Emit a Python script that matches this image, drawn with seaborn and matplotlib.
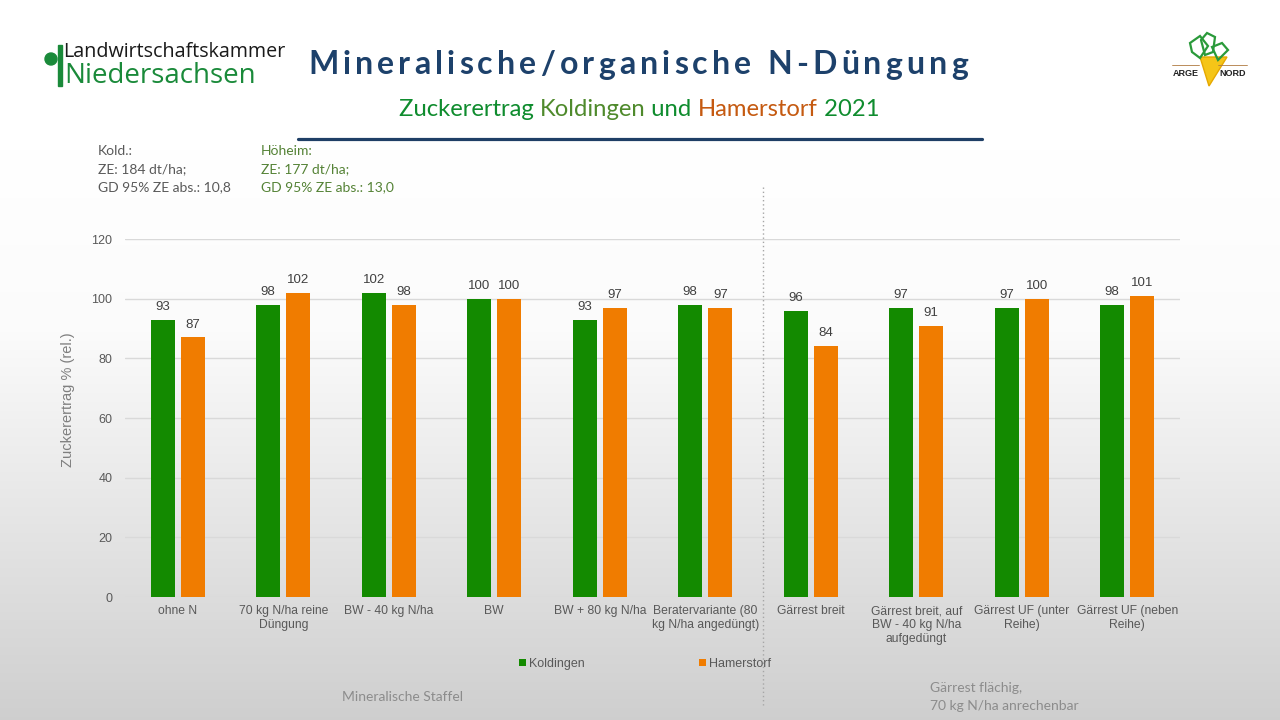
import numpy as np
import pandas as pd
import matplotlib
matplotlib.use("Agg")
import matplotlib.pyplot as plt
from matplotlib.patches import Circle, Rectangle, Polygon
from matplotlib.lines import Line2D
import seaborn as sns

categories = [
    "ohne N",
    "70 kg N/ha reine\nDüngung",
    "BW - 40 kg N/ha",
    "BW",
    "BW + 80 kg N/ha",
    "Beratervariante (80\nkg N/ha angedüngt)",
    "Gärrest breit",
    "Gärrest breit, auf\nBW - 40 kg N/ha\naufgedüngt",
    "Gärrest UF (unter\nReihe)",
    "Gärrest UF (neben\nReihe)",
]
koldingen = [93, 98, 102, 100, 93, 98, 96, 97, 97, 98]
hamerstorf = [87, 102, 98, 100, 97, 97, 84, 91, 100, 101]
series_names = ["Koldingen", "Hamerstorf"]
y_ticks = [0, 20, 40, 60, 80, 100, 120]

df = pd.DataFrame({
    "Variante": categories * 2,
    "Ort": [series_names[0]] * len(categories) + [series_names[1]] * len(categories),
    "Wert": koldingen + hamerstorf,
})

GREEN = "#138a00"
ORANGE = "#f07c00"
TEXT = "#595959"
CALIBRI = ["Lato", "DejaVu Sans"]

sns.set_theme(style="white")
plt.rcParams["font.family"] = ["Liberation Sans", "DejaVu Sans"]

fig = plt.figure(figsize=(12.8, 7.2), dpi=100)
px = fig.dpi_scale_trans


def P(x, y):
    # pixel position (top-left origin) -> inches for dpi_scale_trans
    return x / 100, (720 - y) / 100


# slide background: white at the top fading to light grey at the bottom
bg = fig.add_axes([0, 0, 1, 1], zorder=-10)
rows = np.arange(720)
shade = np.interp(rows, [0, 150, 330, 720], [1.0, 1.0, 0.985, 0.81])
img = np.repeat(shade[:, None, None], 3, axis=2).repeat(2, axis=1)
bg.imshow(img, aspect="auto", extent=[0, 1, 0, 1], interpolation="bilinear")
bg.axis("off")

ax = fig.add_axes([125 / 1280, 1 - 597 / 720, 1055 / 1280, 358 / 720])
ax.set_facecolor("none")
sns.barplot(data=df, x="Variante", y="Wert", hue="Ort", palette=[GREEN, ORANGE],
            width=0.57, gap=0.19, saturation=1, errorbar=None, linewidth=0, ax=ax)

for cont in ax.containers:
    ax.bar_label(cont, fmt="%d", padding=5, fontsize=9.5, color="#404040")

ax.set_ylim(0, 120)
ax.set_xlim(-0.5, len(categories) - 0.5)
ax.set_yticks(y_ticks)
ax.yaxis.grid(True, color="#d9d9d9", lw=1)
ax.set_axisbelow(True)
sns.despine(ax=ax, left=True, bottom=True)
ax.tick_params(axis="both", length=0, labelsize=9, colors=TEXT)
ax.tick_params(axis="x", labelsize=8.7, pad=6)
ax.tick_params(axis="y", pad=9)
ax.set_xlabel("")
ax.set_ylabel("")

handles, labels = ax.get_legend_handles_labels()
ax.get_legend().remove()
fig.legend(handles, labels, loc="center", bbox_to_anchor=(645 / 1280, 1 - 664 / 720),
           ncol=2, frameon=False, fontsize=9, handlelength=0.55, handleheight=0.55,
           handletextpad=0.2, columnspacing=9.2, labelcolor=TEXT)

fig.text(*P(68, 400), "Zuckerertrag % (rel.)", transform=px, rotation=90,
         ha="center", va="center", fontsize=10.5, color="#7f7f7f")

# dotted separator between the two groups of variants
fig.add_artist(Line2D([7.63, 7.63], [(720 - 187) / 100, (720 - 705) / 100],
                      transform=px, ls=(0, (1, 2)), color="#a6a6a6", lw=1))

fig.text(*P(342, 697), "Mineralische Staffel", transform=px, va="center",
         fontsize=10, color="#8c8c8c", family=CALIBRI)
fig.text(*P(930, 697), "Gärrest flächig,\n70 kg N/ha anrechenbar", transform=px,
         va="center", fontsize=10, color="#8c8c8c", family=CALIBRI, linespacing=1.5)

fig.text(*P(98, 145), "Kold.:\nZE: 184 dt/ha;\nGD 95% ZE abs.: 10,8", transform=px,
         va="top", fontsize=10, color=TEXT, family=CALIBRI, linespacing=1.62)
fig.text(*P(261, 145), "Höheim:\nZE: 177 dt/ha;\nGD 95% ZE abs.: 13,0", transform=px,
         va="top", fontsize=10, color="#548235", family=CALIBRI, linespacing=1.62)

renderer = fig.canvas.get_renderer()


def width_px(s, **kw):
    t = fig.text(0, 0, s + "|", **kw)
    w = t.get_window_extent(renderer).width
    t.remove()
    bar = fig.text(0, 0, "|", **kw)
    w -= bar.get_window_extent(renderer).width
    bar.remove()
    return w


def draw_runs(runs, xc, y, span=None, per_char=False, **kw):
    # span: target width in px, filled by letter spacing
    full = "".join(s for s, _ in runs)
    natural = width_px(full, **kw)
    tracking = (span - natural) / (len(full) - 1) if span else 0.0
    x0 = xc - (natural + tracking * (len(full) - 1)) / 2
    pos = 0
    for s, col in runs:
        pieces = list(s) if per_char else [s]
        for piece in pieces:
            x = x0 + width_px(full[:pos], **kw) + tracking * pos
            fig.text(*P(x, y), piece, transform=px, va="center", color=col, **kw)
            pos += len(piece)


draw_runs([("Mineralische/organische N-Düngung", "#1d416b")], 638, 65, span=660,
          per_char=True, fontsize=23, fontweight="bold", family=CALIBRI)
draw_runs([("Zuckerertrag ", "#0f8c2e"), ("Koldingen", "#4f8a2c"), (" und ", "#0f8c2e"),
           ("Hamerstorf", "#c55a11"), (" 2021", "#0f8c2e")], 639, 110,
          fontsize=17.2, family=CALIBRI)
fig.add_artist(Line2D([2.98, 9.82], [(720 - 139) / 100] * 2, transform=px,
                      color="#1f3f66", lw=2.3))

# Landwirtschaftskammer logo
fig.add_artist(Circle(P(51, 59), 0.06, transform=px, color="#1a8a3a"))
fig.add_artist(Rectangle(P(58, 86), 0.04, 0.41, transform=px, color="#1a8a3a"))
fig.text(*P(63, 52), "Landwirtschaftskammer", transform=px, va="center",
         fontsize=14.2, color="#1a1a1a", family=["Open Sans", "DejaVu Sans"])
fig.text(*P(64, 76), "Niedersachsen", transform=px, va="center",
         fontsize=20, color="#1a8a3a", family=["Open Sans", "DejaVu Sans"])

# ARGE NORD logo
fig.add_artist(Polygon([P(1200, 57), P(1227, 57), P(1209, 86)], closed=True,
                       transform=px, facecolor="#f5c518", edgecolor="#e6a800", lw=1))
for leaf in [
    [(1190, 43), (1200, 36), (1208, 46), (1200, 58), (1192, 52)],
    [(1201, 40), (1207, 33), (1215, 37), (1213, 52), (1205, 55)],
    [(1212, 47), (1222, 43), (1228, 50), (1218, 60)],
]:
    fig.add_artist(Polygon([P(x, y) for x, y in leaf], closed=True, transform=px,
                           facecolor="none", edgecolor="#2a9a3a", lw=1.6))
fig.add_artist(Line2D([11.72, 11.99], [(720 - 65) / 100] * 2, transform=px,
                      color="#b07a40", lw=0.6))
fig.add_artist(Line2D([12.18, 12.47], [(720 - 65) / 100] * 2, transform=px,
                      color="#b07a40", lw=0.6))
fig.text(*P(1186, 74), "ARGE", transform=px, ha="center", va="center",
         fontsize=6.5, fontweight="bold", color="#222222")
fig.text(*P(1233, 74), "NORD", transform=px, ha="center", va="center",
         fontsize=6.5, fontweight="bold", color="#222222")

fig.savefig("out.png", dpi=100)
plt.close(fig)
